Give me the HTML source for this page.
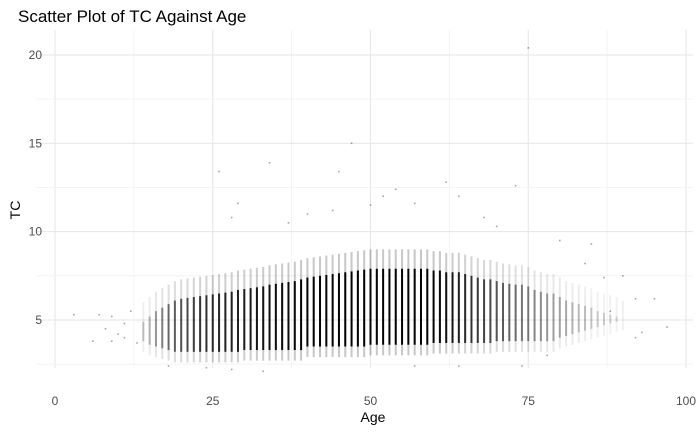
<!DOCTYPE html>
<html><head><meta charset="utf-8"><style>
html,body{margin:0;padding:0;background:#fff;width:700px;height:432px;overflow:hidden}
svg text{font-family:"Liberation Sans",sans-serif}
</style></head><body>
<svg id="chart" width="700" height="432" xmlns="http://www.w3.org/2000/svg">
<text x="18" y="22" font-size="17" fill="#000">Scatter Plot of TC Against Age</text>
<g id="grid"></g>
<g id="marks"></g>
<g id="axes"></g>
<text x="373" y="422" font-size="14" text-anchor="middle" fill="#000">Age</text>
<text transform="translate(20,210) rotate(-90)" font-size="14" text-anchor="middle" fill="#000">TC</text>
</svg>
<script>
const ages=[14,15,16,17,18,19,20,21,22,23,24,25,26,27,28,29,30,31,32,33,34,35,36,37,38,39,40,41,42,43,44,45,46,47,48,49,50,51,52,53,54,55,56,57,58,59,60,61,62,63,64,65,66,67,68,69,70,71,72,73,74,75,76,77,78,79,80,81,82,83,84,85,86,87,88,89,90];
const coreLo=[3.6,3.4,3.3,3.2,3.1,3.0,3.0,3.0,3.0,3.0,3.0,3.0,3.0,3.0,3.0,3.0,3.1,3.1,3.1,3.1,3.1,3.1,3.1,3.1,3.1,3.1,3.3,3.3,3.3,3.3,3.3,3.3,3.3,3.3,3.3,3.3,3.4,3.4,3.4,3.4,3.4,3.4,3.4,3.4,3.4,3.4,3.5,3.5,3.5,3.5,3.5,3.5,3.5,3.5,3.5,3.5,3.6,3.6,3.6,3.6,3.6,3.6,3.6,3.6,3.6,3.6,3.8,3.9,4.0,4.1,4.2,4.3,4.4,4.5,4.6,4.7,4.8];
const coreHi=[5.2,5.5,5.8,6.0,6.2,6.4,6.5,6.55,6.6,6.65,6.7,6.75,6.8,6.85,6.9,7.0,7.05,7.1,7.15,7.2,7.3,7.35,7.4,7.45,7.5,7.6,7.7,7.75,7.8,7.85,7.9,7.95,8.0,8.05,8.1,8.15,8.2,8.2,8.2,8.2,8.2,8.2,8.2,8.2,8.2,8.2,8.1,8.1,8.0,8.0,8.0,7.9,7.8,7.7,7.6,7.6,7.5,7.4,7.35,7.3,7.3,7.2,7.0,6.9,6.8,6.8,6.6,6.4,6.3,6.2,6.1,6.0,5.8,5.7,5.6,5.5,5.3];
const density=[0.15,0.2,0.3,0.4,0.5,0.55,0.6,0.65,0.7,0.75,0.78,0.8,0.82,0.84,0.85,0.85,0.86,0.88,0.9,0.92,0.94,0.95,0.96,0.97,0.98,0.99,1,1,1,1,1,1,1,1,1,1,1,1,1,1,1,1,1,1,1,1,1,0.97,0.94,0.9,0.85,0.8,0.76,0.72,0.68,0.64,0.6,0.56,0.52,0.48,0.44,0.4,0.37,0.34,0.3,0.27,0.25,0.22,0.19,0.16,0.14,0.12,0.1,0.09,0.08,0.07,0.07];
const outAge=[3,6,7,8,9,10,11,12,13,26,34,47,75,45,52,54,62,64,73,29,28,57,40,37,80,85,90,92,95,97,92,88,33,24,64,74,78,57,18,28,44,50,68,70,84,87,93,9,11];
const outTC=[5.3,3.8,5.3,4.5,5.2,4.2,4.8,5.5,3.7,13.4,13.9,15,20.4,13.4,12,12.4,12.8,12,12.6,11.6,10.8,11.6,11,10.5,9.5,9.3,7.5,6.2,6.2,4.6,4.0,5.5,2.1,2.3,2.4,2.4,3.0,2.4,2.4,2.2,11.2,11.5,10.8,10.3,8.2,7.4,4.3,3.8,4.0];
const xTicks=[0,25,50,75,100];
const yTicks=[5,10,15,20];

const NS="http://www.w3.org/2000/svg";
const L=36,R=693,T=30,B=368;
const xs=v=>55+v*6.31;
const ys=v=>320-(v-5)*17.67;
function mk(tag,attrs,parent){const e=document.createElementNS(NS,tag);for(const k in attrs)e.setAttribute(k,attrs[k]);parent.appendChild(e);return e;}
const grid=document.getElementById('grid'),marks=document.getElementById('marks'),axes=document.getElementById('axes');
for(let i=0;i<xTicks.length;i++){
  const v=xTicks[i];
  const l=mk('line',{x1:xs(v),x2:xs(v),y1:T,y2:B,stroke:'#e6e6e6','stroke-width':1},grid);
  
  
  if(i<xTicks.length-1){const m=(v+xTicks[i+1])/2;
    const ml=mk('line',{x1:xs(m),x2:xs(m),y1:T,y2:B,stroke:'#f0f0f0','stroke-width':0.8},grid);
    
    }
  const t=mk('text',{x:xs(v),y:405,'font-size':12,'text-anchor':'middle',fill:'#4d4d4d'},axes);t.textContent=v;
  
  
}
const yMinor=[2.5,7.5,12.5,17.5];
yMinor.forEach(m=>{const ml=mk('line',{x1:L,x2:R,y1:ys(m),y2:ys(m),stroke:'#f0f0f0','stroke-width':0.8},grid);
  
  });
yTicks.forEach(v=>{
  const l=mk('line',{x1:L,x2:R,y1:ys(v),y2:ys(v),stroke:'#e6e6e6','stroke-width':1},grid);
  
  
  const t=mk('text',{x:42,y:ys(v)+4,'font-size':12,'text-anchor':'end',fill:'#4d4d4d'},axes);t.textContent=v;
  
  
});
ages.forEach((a,i)=>{
  const x=xs(a)-1,d=density[i];
  const f=mk('rect',{x:x,y:ys(coreHi[i]+0.8),width:2,height:ys(coreLo[i]-0.4)-ys(coreHi[i]+0.8),fill:'#000',opacity:(0.18*d+0.04).toFixed(3)},marks);
  
  
  const c=mk('rect',{x:x,y:ys(coreHi[i]-0.3),width:2,height:ys(coreLo[i]+0.2)-ys(coreHi[i]-0.3),fill:'#000',opacity:(0.9*d+0.08).toFixed(3)},marks);
  
  
});
outAge.forEach((a,i)=>{
  const p=mk('rect',{x:xs(a)-0.8,y:ys(outTC[i])-0.8,width:1.6,height:1.6,fill:'#000',opacity:0.35},marks);
  
  
});
</script>
</body></html>
